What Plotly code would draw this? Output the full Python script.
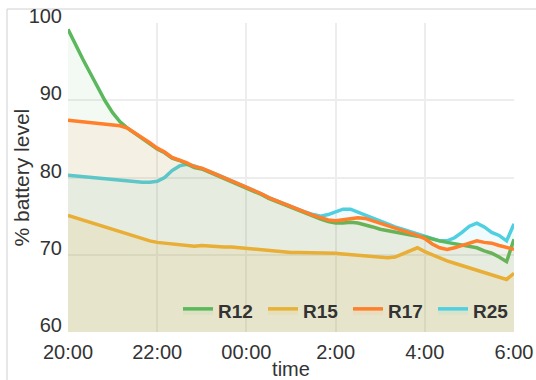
import plotly.graph_objects as go
import pandas as pd

# time axis: 10-minute steps from 20:00 to 06:00
times = pd.date_range("2021-01-01 20:00", "2021-01-02 06:00", freq="10min")

r12 = [99.2, 97.2, 95.3, 93.5, 91.6, 89.9, 88.4, 87.2, 86.4, 85.7,
       85.0, 84.4, 83.7, 83.2, 82.5, 82.2, 81.8, 81.3, 81.1, 80.7,
       80.3, 79.9, 79.5, 79.1, 78.6, 78.2, 77.8, 77.3, 76.9, 76.5,
       76.1, 75.7, 75.4, 75.0, 74.6, 74.3, 74.1, 74.1, 74.2, 74.1,
       73.9, 73.6, 73.3, 73.1, 73.0, 72.8, 72.6, 72.4, 72.3, 72.0,
       71.8, 71.6, 71.4, 71.3, 71.1, 70.9, 70.5, 70.2, 69.7, 69.1,
       72.0]
r15 = [75.1, 74.8, 74.4, 74.2, 73.9, 73.6, 73.3, 73.0, 72.7, 72.4,
       72.1, 71.8, 71.6, 71.5, 71.4, 71.3, 71.2, 71.1, 71.2, 71.1,
       71.0, 71.0, 71.0, 70.9, 70.9, 70.8, 70.7, 70.6, 70.5, 70.4,
       70.3, 70.3, 70.3, 70.2, 70.2, 70.2, 70.2, 70.1, 70.0, 70.0,
       69.9, 69.8, 69.7, 69.6, 69.7, 70.1, 70.6, 70.9, 70.4, 70.0,
       69.5, 69.2, 68.9, 68.6, 68.3, 68.0, 67.7, 67.4, 67.1, 66.8,
       67.6]
r17 = [87.4, 87.3, 87.2, 87.2, 87.1, 87.0, 86.9, 86.7, 86.4, 85.8,
       85.1, 84.5, 83.8, 83.3, 82.6, 82.3, 81.9, 81.4, 81.2, 80.8,
       80.4, 80.0, 79.6, 79.2, 78.7, 78.3, 77.9, 77.4, 77.0, 76.6,
       76.2, 75.8, 75.5, 75.1, 74.8, 74.5, 74.4, 74.5, 74.7, 74.8,
       74.7, 74.4, 74.0, 73.8, 73.5, 73.2, 72.9, 72.5, 72.1, 71.4,
       70.9, 70.7, 70.9, 71.2, 71.6, 71.8, 71.6, 71.5, 71.2, 71.0,
       70.7]
r25 = [80.3, 80.2, 80.1, 80.0, 79.9, 79.8, 79.7, 79.6, 79.6, 79.5,
       79.4, 79.4, 79.5, 80.0, 80.9, 81.5, 81.7, 81.5, 81.2, 80.8,
       80.4, 80.0, 79.6, 79.2, 78.7, 78.3, 77.9, 77.4, 77.0, 76.6,
       76.2, 75.8, 75.5, 75.2, 75.0, 75.2, 75.5, 75.9, 75.9, 75.5,
       75.1, 74.8, 74.4, 74.0, 73.6, 73.3, 73.0, 72.7, 72.4, 72.1,
       71.8, 71.8, 72.2, 72.9, 73.7, 74.1, 73.6, 72.9, 72.5, 71.8,
       74.0]

series_names = ["R12", "R15", "R17", "R25"]
series_values = {"R12": r12, "R15": r15, "R17": r17, "R25": r25}
line_colors = {"R12": "#5cb85c", "R15": "#e6b237", "R17": "#ff7f2a", "R25": "#4fcfe0"}
fill_colors = {"R12": "rgba(92,184,92,0.07)", "R15": "rgba(230,178,55,0.12)",
               "R17": "rgba(255,127,42,0.08)", "R25": "rgba(79,207,224,0.09)"}
draw_order = ["R25", "R12", "R15", "R17"]

tick_vals = pd.to_datetime(["2021-01-01 20:00", "2021-01-01 22:00", "2021-01-02 00:00",
                            "2021-01-02 02:00", "2021-01-02 04:00", "2021-01-02 06:00"])
tick_text = ["20:00", "22:00", "00:00", "2:00", "4:00", "6:00"]
y_ticks = [60, 70, 80, 90, 100]

fig = go.Figure()
for name in draw_order:
    fig.add_trace(go.Scatter(
        x=times, y=series_values[name], name=name, mode="lines",
        line=dict(color=line_colors[name], width=3.5),
        fill="tozeroy", fillcolor=fill_colors[name],
        legendrank=series_names.index(name) + 1,
    ))

font_family = "Liberation Sans, Arial, sans-serif"
L, R, T, B = 68, 22, 23, 48
W, H = 536, 380
pw, ph = W - L - R, H - T - B

fig.update_layout(
    width=W, height=H,
    margin=dict(l=L, r=R, t=T, b=B, autoexpand=False),
    paper_bgcolor="white", plot_bgcolor="white",
    font=dict(family=font_family, color="#333333"),
    showlegend=True,
    legend=dict(orientation="h", x=(178 - L) / pw, xanchor="left", y=(H - B - 311) / ph, yanchor="middle",
                bgcolor="rgba(0,0,0,0)", font=dict(size=19, family=font_family, weight="bold", color="#333"),
                itemwidth=30, entrywidth=40, traceorder="normal"),
    xaxis=dict(range=[times[0], times[-1]], tickvals=tick_vals, ticktext=tick_text,
               showgrid=True, gridcolor="#ededed", gridwidth=1.5, zeroline=False,
               showline=False, ticks="", tickfont=dict(size=20), ticklabelstandoff=6,
               title=dict(text="time", font=dict(size=20), standoff=0)),
    yaxis=dict(range=[60, 100], tickvals=y_ticks,
               showgrid=True, gridcolor="#ededed", gridwidth=1.5, zeroline=False,
               showline=False, ticks="", tickfont=dict(size=20), ticklabelshift=-7,
               ticklabelstandoff=5),
    annotations=[dict(text="% battery level", textangle=-90, xref="paper", yref="paper",
                      x=(21 - L) / pw, y=0.5, xanchor="center", yanchor="middle",
                      showarrow=False, font=dict(size=21, family=font_family, color="#333333"))],
    shapes=[dict(type="rect", xref="paper", yref="paper",
                 x0=(7 - L) / pw, x1=(545 - L) / pw,
                 y0=(H - B - 390) / ph, y1=(H - B - 9) / ph,
                 line=dict(color="#d0d0d0", width=1), fillcolor="rgba(0,0,0,0)", layer="below")],
)

fig.write_html("out.html", config={"displayModeBar": False},
               post_script="document.body.style.margin='0px';")
